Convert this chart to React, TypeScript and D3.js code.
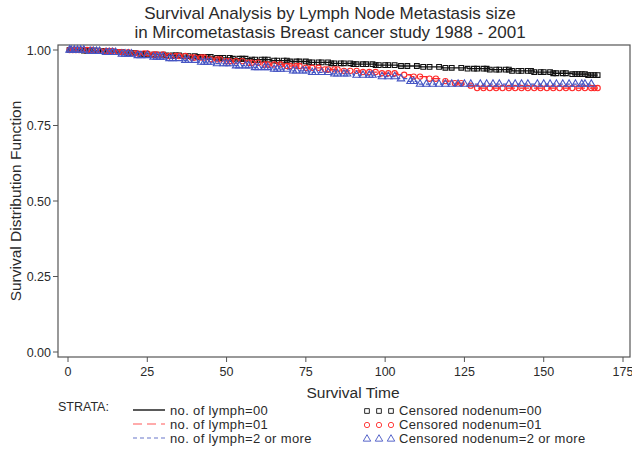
import React, { useEffect, useRef } from "react";
import * as d3 from "d3";

// step curves (event times / survival estimate)
const timesNode00 = [0, 5, 10, 14, 18, 22, 27, 31, 36, 41, 46, 52, 58, 64, 70, 76, 83, 90, 97, 104, 111, 118, 126, 133, 140, 147, 153, 159, 164, 167];
const survNode00 = [1.0, 0.998, 0.996, 0.993, 0.99, 0.987, 0.985, 0.982, 0.98, 0.977, 0.974, 0.971, 0.968, 0.965, 0.962, 0.959, 0.956, 0.953, 0.95, 0.947, 0.944, 0.941, 0.938, 0.935, 0.931, 0.927, 0.923, 0.92, 0.917, 0.917];

const timesNode01 = [0, 8, 15, 20, 26, 32, 38, 44, 50, 56, 62, 68, 74, 80, 86, 92, 98, 104, 108, 113, 118, 121, 125, 128, 167];
const survNode01 = [1.0, 0.997, 0.993, 0.989, 0.985, 0.98, 0.975, 0.969, 0.963, 0.958, 0.952, 0.947, 0.941, 0.936, 0.931, 0.927, 0.923, 0.918, 0.912, 0.905, 0.897, 0.89, 0.882, 0.874, 0.874];

const timesNode2 = [0, 6, 11, 16, 21, 26, 31, 36, 41, 46, 52, 58, 64, 70, 76, 83, 90, 97, 104, 107, 110, 165];
const survNode2 = [1.0, 0.996, 0.992, 0.987, 0.982, 0.977, 0.972, 0.966, 0.96, 0.955, 0.948, 0.942, 0.937, 0.931, 0.926, 0.921, 0.917, 0.912, 0.905, 0.896, 0.887, 0.887];

// censored observations
const censorNode00 = [0.5, 1, 2, 3, 4, 5, 6, 7, 8, 9, 11, 12, 13, 15, 16, 17, 19, 20, 21, 23, 24, 25, 27, 28, 30, 31, 33, 34, 35, 37, 38, 40, 41, 42, 44, 45, 47, 48, 49, 51, 52, 54, 55, 56, 58, 59, 61, 62, 63, 65, 66, 68, 69, 70, 72, 73, 75, 76, 77, 79, 80, 82, 83, 84, 86, 87, 89, 90, 91, 93, 94, 96, 97, 98, 100, 101, 103, 105, 107, 110, 112, 114, 117, 119, 121, 124, 126, 128, 129, 131, 132, 133, 135, 136, 138, 139, 140, 142, 143, 145, 146, 147, 149, 150, 152, 153, 154, 156, 157, 159, 160, 161, 162, 163, 164, 165, 166, 167];
const censorNode01 = [0.5, 1.5, 2.5, 3.5, 5, 6, 7.5, 9, 10, 12, 13, 14, 16, 17, 19, 21, 22, 24, 25, 27, 28, 30, 32, 34, 35, 37, 39, 40, 42, 43, 45, 47, 48, 50, 51, 53, 55, 57, 58, 60, 62, 63, 65, 67, 69, 70, 72, 73, 75, 77, 79, 81, 82, 84, 85, 87, 89, 91, 93, 95, 97, 99, 101, 103, 106, 109, 111, 114, 116, 119, 122, 124, 127, 129, 131, 133, 135, 137, 139, 141, 143, 145, 147, 149, 151, 153, 155, 157, 159, 161, 163, 165, 166, 167];
const censorNode2 = [0.5, 1, 2, 3, 4, 5, 7, 8, 9, 10, 12, 13, 14, 15, 17, 18, 19, 20, 22, 23, 25, 27, 28, 29, 30, 32, 33, 35, 37, 38, 40, 42, 43, 44, 45, 47, 49, 50, 51, 53, 54, 56, 57, 59, 60, 62, 63, 65, 66, 67, 69, 71, 72, 74, 75, 77, 78, 80, 82, 84, 85, 87, 88, 91, 93, 95, 96, 99, 101, 103, 105, 108, 109, 111, 113, 115, 117, 119, 121, 123, 125, 127, 130, 132, 134, 136, 139, 141, 143, 145, 148, 150, 152, 154, 156, 158, 160, 162, 163, 165];

const xTicks = [0, 25, 50, 75, 100, 125, 150, 175];
const yTicks = [0, 0.25, 0.5, 0.75, 1.0];

const lineLabels = ["no. of lymph=00", "no. of lymph=01", "no. of lymph=2 or more"];
const censorLabels = ["Censored nodenum=00", "Censored nodenum=01", "Censored nodenum=2 or more"];

const FONT = "Liberation Sans, Arial, sans-serif";
const TXT = "#2a2a2a";

const App = () => {
  const svgRef = useRef<SVGSVGElement>(null);

  useEffect(() => {
    const svg = d3.select(svgRef.current);
    svg.selectAll("*").remove();

    const left = 58, top = 45, right = 630, bottom = 357;
    const x = d3.scaleLinear().domain([0, 175]).range([68, 623]);
    const y = d3.scaleLinear().domain([0, 1]).range([352, 50]);

    const groups = [
      { times: timesNode00, surv: survNode00, censor: censorNode00, color: "#111", dash: null, marker: "square" },
      { times: timesNode01, surv: survNode01, censor: censorNode01, color: "#ff2a2a", dash: "9,5", marker: "circle" },
      { times: timesNode2, surv: survNode2, censor: censorNode2, color: "#4656c4", dash: "4,3", marker: "triangle" },
    ];
    const legendColors = ["#000", "#ff9090", "#9aa4dc"];

    // title
    svg.append("text").attr("x", 330).attr("y", 19).attr("text-anchor", "middle")
      .attr("font-family", FONT).attr("font-size", 17).attr("fill", TXT)
      .text("Survival Analysis by Lymph Node Metastasis size");
    svg.append("text").attr("x", 330).attr("y", 38).attr("text-anchor", "middle")
      .attr("font-family", FONT).attr("font-size", 17).attr("fill", TXT)
      .text("in Mircometastasis Breast cancer study 1988 - 2001");

    // frame
    svg.append("rect").attr("x", left).attr("y", top).attr("width", right - left).attr("height", bottom - top)
      .attr("fill", "none").attr("stroke", "#555").attr("stroke-width", 1.2);

    // y axis
    yTicks.forEach((t) => {
      svg.append("line").attr("x1", left - 5).attr("x2", left).attr("y1", y(t)).attr("y2", y(t)).attr("stroke", "#555");
      svg.append("text").attr("x", left - 7).attr("y", y(t) + 4.5).attr("text-anchor", "end")
        .attr("font-family", FONT).attr("font-size", 12.5).attr("fill", TXT).text(t.toFixed(2));
    });
    svg.append("text").attr("transform", `translate(21,201) rotate(-90)`).attr("text-anchor", "middle")
      .attr("font-family", FONT).attr("font-size", 15.5).attr("fill", TXT).text("Survival Distribution Function");

    // x axis
    xTicks.forEach((t) => {
      svg.append("line").attr("x1", x(t)).attr("x2", x(t)).attr("y1", bottom).attr("y2", bottom + 5).attr("stroke", "#555");
      svg.append("text").attr("x", x(t)).attr("y", bottom + 19).attr("text-anchor", "middle")
        .attr("font-family", FONT).attr("font-size", 12.5).attr("fill", TXT).text(t);
    });
    svg.append("text").attr("x", 353).attr("y", 398).attr("text-anchor", "middle")
      .attr("font-family", FONT).attr("font-size", 15.5).attr("fill", TXT).text("Survival Time");

    const symbol = (kind: string) =>
      d3.symbol().type(kind === "square" ? d3.symbolSquare : kind === "circle" ? d3.symbolCircle : d3.symbolTriangle)
        .size(kind === "triangle" ? 24 : 22)();

    const survAt = (g: any, t: number) => {
      let s = g.surv[0];
      g.times.forEach((tt: number, i: number) => { if (tt <= t) s = g.surv[i]; });
      return s;
    };

    // curves
    const line = d3.line<[number, number]>().x((d) => x(d[0])).y((d) => y(d[1])).curve(d3.curveStepAfter);
    groups.forEach((g) => {
      const pts = g.times.map((t, i) => [t, g.surv[i]] as [number, number]);
      svg.append("path").attr("d", line(pts)).attr("fill", "none").attr("stroke", g.color)
        .attr("stroke-width", 1.3).attr("stroke-dasharray", g.dash);
    });
    groups.forEach((g) => {
      svg.append("g").selectAll("path").data(g.censor).enter().append("path")
        .attr("transform", (t) => `translate(${x(t)},${y(survAt(g, t))})`)
        .attr("d", symbol(g.marker)).attr("fill", "none").attr("stroke", g.color).attr("stroke-width", 1.1);
    });

    // legend
    svg.append("text").attr("x", 58).attr("y", 411).attr("font-family", FONT).attr("font-size", 12.5)
      .attr("fill", TXT).text("STRATA:");
    groups.forEach((g, i) => {
      const ly = 410 + i * 14;
      svg.append("line").attr("x1", 133).attr("x2", 165).attr("y1", ly).attr("y2", ly)
        .attr("stroke", legendColors[i]).attr("stroke-width", 1.3).attr("stroke-dasharray", g.dash);
      svg.append("text").attr("x", 170).attr("y", ly + 4.5).attr("font-family", FONT).attr("font-size", 13)
        .attr("letter-spacing", 0.35).attr("fill", TXT).text(lineLabels[i]);
      [367, 379, 391].forEach((mx) => {
        svg.append("path").attr("transform", `translate(${mx},${ly + 1})`).attr("d", symbol(g.marker))
          .attr("fill", "none").attr("stroke", g.color).attr("stroke-width", 0.9);
      });
      svg.append("text").attr("x", 399).attr("y", ly + 4.5).attr("font-family", FONT).attr("font-size", 13)
        .attr("letter-spacing", 0.35).attr("fill", TXT).text(censorLabels[i]);
    });
  }, []);

  return (
    <svg ref={svgRef} width={632} height={449}
      style={{ position: "absolute", left: 0, top: 0, background: "#fff" }} />
  );
};

export default App;
